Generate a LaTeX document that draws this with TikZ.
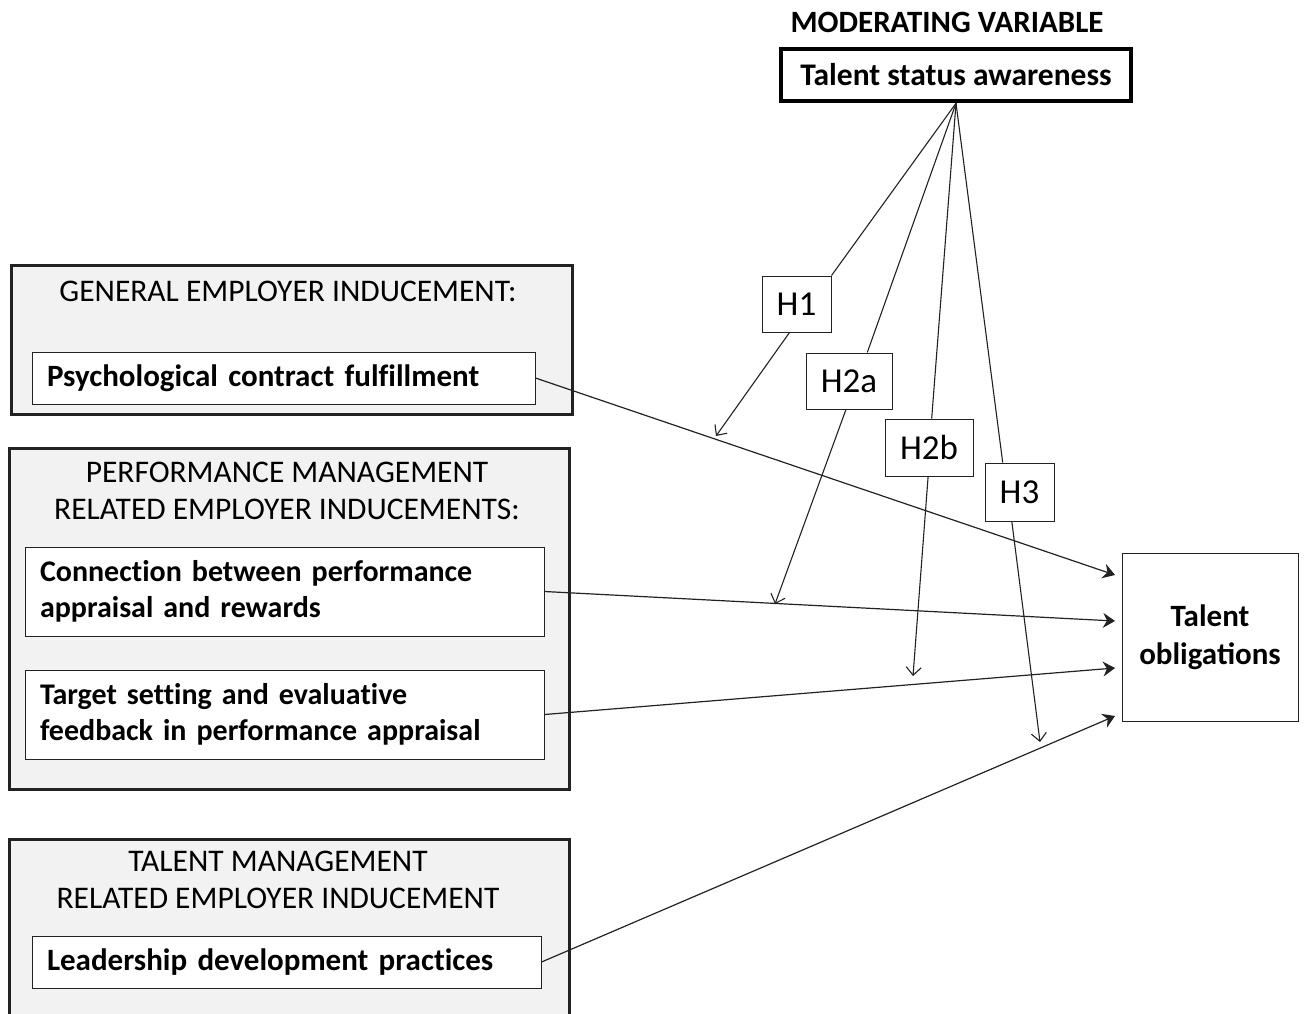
\documentclass[tikz,border=0pt]{standalone}
\usepackage{fontspec}
\setmainfont{Carlito}
\newfontfamily\itemfont[Ligatures=NoCommon]{Carlito}
\newcommand\mytightspace{\spaceskip=0.19em plus 0.05em\relax}
\usetikzlibrary{arrows.meta,calc}
\definecolor{groupfill}{HTML}{F2F2F2}
\definecolor{ink}{HTML}{222222}
\begin{document}
\begin{tikzpicture}[x=1pt,y=-1pt,
  group/.style={draw=ink, line width=3pt, fill=groupfill, anchor=north west, inner sep=0pt},
  item/.style={draw=ink, line width=1pt, fill=white, inner xsep=15pt, inner ysep=0pt,
     align=left, font=\itemfont\fontsize{30}{36.5}\selectfont\bfseries\mytightspace},
  bigitem/.style={item, font=\itemfont\fontsize{31}{36.5}\selectfont\bfseries\mytightspace},
  title/.style={align=center, font=\fontsize{31.5}{37}\selectfont},
  hbox/.style={draw=ink, line width=1pt, fill=white, inner sep=0pt, font=\fontsize{35}{36}\selectfont},
  mainarrow/.style={draw=ink, line width=1.2pt, -{Stealth[length=12pt,width=15pt,inset=4pt]}},
  modline/.style={draw=ink, line width=1.1pt},
  modarrow/.style={draw=ink, line width=1.1pt, -{Straight Barb[length=8pt,width=15pt]}}
]
\useasboundingbox (0,0) rectangle (1305,1013);

% moderator
\node[font=\fontsize{31}{34}\selectfont\bfseries] (modtitle) at (947,22) {MODERATING VARIABLE};
\node[draw=black, line width=4.5pt, minimum width=350pt, minimum height=52pt, inner sep=0pt,
      font=\fontsize{31.5}{34}\selectfont\bfseries] (tsa) at (956,75) {Talent status awareness};

% groups
\node[group, minimum width=561pt, minimum height=149pt] (g1) at (10,264) {};
\node[title] (g1t) at (288,291) {GENERAL EMPLOYER INDUCEMENT:};
\node[bigitem, text width=473pt, minimum height=52pt] (pcf) at (283.5,378) {Psychological contract fulfillment};

\node[group, minimum width=560pt, minimum height=341pt] (g2) at (8,447) {};
\node[title] (g2t) at (287,490.5) {PERFORMANCE MANAGEMENT\\RELATED EMPLOYER INDUCEMENTS:};
\node[item, text width=489pt, minimum height=89pt] (cpar) at (284.5,591.5) {Connection between performance\\appraisal and rewards};
\node[item, text width=489pt, minimum height=89pt] (tsef) at (284.5,714.5) {Target setting and evaluative\\feedback in performance appraisal};

\node[group, minimum width=560pt, minimum height=180pt] (g3) at (8,838) {};
\node[title] (g3t) at (278,879.5) {TALENT MANAGEMENT\\RELATED EMPLOYER INDUCEMENT};
\node[bigitem, text width=479pt, minimum height=52pt] (ldp) at (286.5,962) {Leadership development practices};

% outcome
\node[draw=ink, line width=1pt, minimum width=176pt, minimum height=168pt, inner sep=0pt, align=center,
      font=\fontsize{31}{38}\selectfont\bfseries] (to) at (1210,637) {Talent\\obligations};

% hypothesis boxes
\node[hbox, minimum width=69pt, minimum height=56pt] (h1) at (796.5,304) {H1};
\node[hbox, minimum width=86pt, minimum height=56pt] (h2a) at (849,381) {H2a};
\node[hbox, minimum width=88pt, minimum height=57pt] (h2b) at (929,447.5) {H2b};
\node[hbox, minimum width=69pt, minimum height=58pt] (h3) at (1019.5,492) {H3};

% arrow end points
\coordinate (e1) at (1115,575);
\coordinate (e2) at (1115,621);
\coordinate (e3) at (1115,668);
\coordinate (e4) at (1115,716);
\coordinate (m1) at (716,436);
\coordinate (m2) at (775,604);
\coordinate (m3) at (913,676);
\coordinate (m4) at (1040,742);

% main arrows
\draw[mainarrow] (pcf.east) -- (e1);
\draw[mainarrow] (cpar.east) -- (e2);
\draw[mainarrow] (tsef.east) -- (e3);
\draw[mainarrow] (ldp.east) -- (e4);

% moderator lines
\draw[modline] (tsa.south) -- (h1.north east);
\draw[modline] (tsa.south) -- ($(h2a.north west)!0.71!(h2a.north east)$);
\draw[modline] (tsa.south) -- ($(h2b.north west)!0.53!(h2b.north east)$);
\draw[modline] (tsa.south) -- ($(h3.north west)!0.26!(h3.north east)$);

\draw[modarrow] ($(h1.south west)!0.4!(h1.south east)$) -- (m1);
\draw[modarrow] ($(h2a.south west)!0.465!(h2a.south east)$) -- (m2);
\draw[modarrow] ($(h2b.south west)!0.49!(h2b.south east)$) -- (m3);
\draw[modarrow] ($(h3.south west)!0.39!(h3.south east)$) -- (m4);
\end{tikzpicture}
\end{document}
